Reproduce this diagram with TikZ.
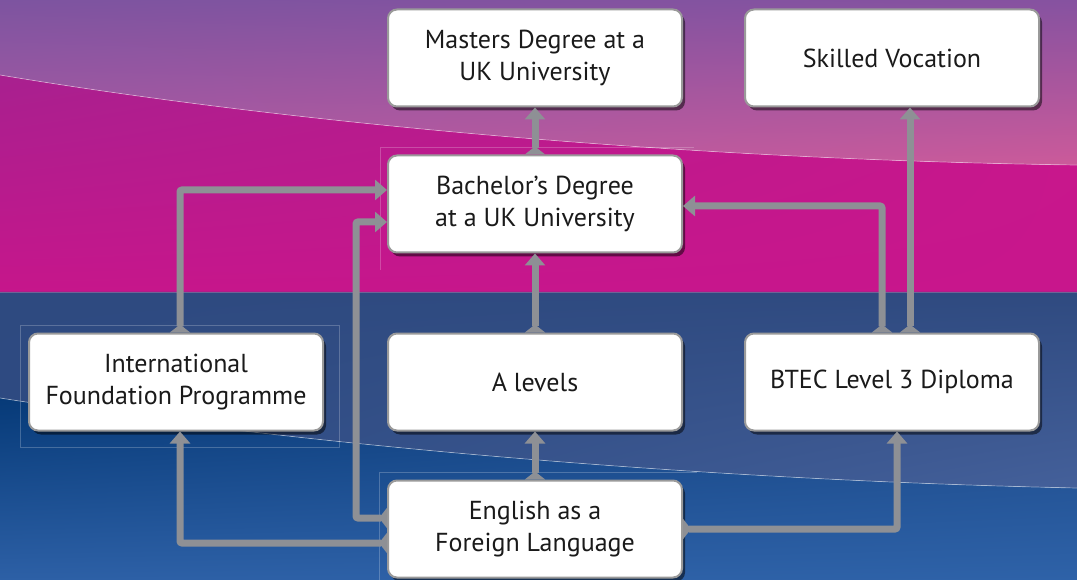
\documentclass[tikz,border=0pt]{standalone}
\usepackage{fontspec}
\setmainfont{PT Sans}
\usetikzlibrary{arrows.meta,shadows,shadings,positioning}
\definecolor{arrowgray}{HTML}{8E9095}
\definecolor{boxline}{HTML}{9A9A9A}
\definecolor{txt}{HTML}{1A1A1A}
\definecolor{aUL}{RGB}{125,84,160}
\definecolor{aUR}{RGB}{134,82,160}
\definecolor{aLL}{RGB}{176,90,163}
\definecolor{aLR}{RGB}{204,90,154}
\definecolor{bUL}{RGB}{168,32,143}
\definecolor{bUR}{RGB}{200,23,140}
\definecolor{bLL}{RGB}{198,22,139}
\definecolor{bLR}{RGB}{200,22,140}
\definecolor{cUL}{RGB}{46,74,128}
\definecolor{cUR}{RGB}{47,74,128}
\definecolor{cLL}{RGB}{45,74,130}
\definecolor{cLR}{RGB}{68,96,154}
\definecolor{dUL}{RGB}{6,58,120}
\definecolor{dUR}{RGB}{29,74,138}
\definecolor{dLL}{RGB}{45,96,166}
\definecolor{dLR}{RGB}{46,98,168}
\definecolor{sepline}{RGB}{110,100,150}
\tikzset{
  stagebox/.style={draw=boxline, line width=2pt, fill=white, rounded corners=9pt,
    minimum width=294pt, minimum height=97pt, align=center, text=txt,
    font=\fontsize{26}{32}\selectfont,
    drop shadow={shadow xshift=3pt,shadow yshift=-4pt,opacity=0.5,fill=black}},
  conn/.style={draw=arrowgray, line width=7pt, rounded corners=2pt,
    {Triangle[reversed,width=20pt,length=8pt]}-{Triangle[width=20pt,length=12pt]}},
  ghost/.style={draw=white, draw opacity=0.22, line width=0.8pt},
  edge hl/.style={draw=white, draw opacity=0.45, line width=0.7pt}
}
\begin{document}
\begin{tikzpicture}[x=1pt,y=-1pt]
\useasboundingbox (0,0) rectangle (1077,580);
% background bands
\begin{scope}
  \clip (0,0) -- (1077,0) -- (1077,165) .. controls (700,160) and (300,125) .. (0,75) -- cycle;
  \shade[upper left=aUL, upper right=aUR, lower left=aLL, lower right=aLR] (0,0) rectangle (1077,166);
\end{scope}
\begin{scope}
  \clip (0,75) .. controls (300,125) and (700,160) .. (1077,165) -- (1077,292) -- (0,292) -- cycle;
  \shade[upper left=bUL, upper right=bUR, lower left=bLL, lower right=bLR] (0,75) rectangle (1077,292);
\end{scope}
\begin{scope}
  \clip (0,292) -- (1077,292) -- (1077,488) .. controls (700,480) and (300,445) .. (0,398) -- cycle;
  \shade[upper left=cUL, upper right=cUR, lower left=cLL, lower right=cLR] (0,292) rectangle (1077,488);
\end{scope}
\begin{scope}
  \clip (0,398) .. controls (300,445) and (700,480) .. (1077,488) -- (1077,580) -- (0,580) -- cycle;
  \shade[upper left=dUL, upper right=dUR, lower left=dLL, lower right=dLR] (0,398) rectangle (1077,580);
\end{scope}
\draw[edge hl] (0,75) .. controls (300,125) and (700,160) .. (1077,165);
\draw[edge hl] (0,398) .. controls (300,445) and (700,480) .. (1077,488);
\draw[draw=sepline, line width=0.8pt] (0,292) -- (1077,292);
% faint outlines
\draw[ghost] (380,270) -- (380,147) -- (694,147);
\draw[ghost] (20,325) rectangle (339,447);
\draw[ghost] (379,580) -- (379,472) -- (697,472);
% nodes
\node[stagebox] (mast)  at (535,58)  {Masters Degree at a\\UK University};
\node[stagebox] (skill) at (892,58)  {Skilled Vocation};
\node[stagebox] (bach)  at (535,204) {Bachelor’s Degree\\at a UK University};
\node[stagebox] (ifp)   at (176,382) {International\\Foundation Programme};
\node[stagebox] (alev)  at (535,382) {A levels};
\node[stagebox] (btec)  at (892,382) {BTEC Level 3 Diploma};
\node[stagebox] (efl)   at (535,529) {English as a\\Foreign Language};
% connectors
\draw[conn] (bach.north) -- (mast.south);
\draw[conn] (alev.north) -- (bach.south);
\draw[conn] (efl.north) -- (alev.south);
\draw[conn] ([xshift=4pt]ifp.north) |- ([yshift=14pt]bach.west);
\draw[conn] ([yshift=11pt]efl.west) -- ++(-31,0) |- ([yshift=-18pt]bach.west);
\draw[conn] ([yshift=-14pt]efl.west) -| ([xshift=4pt]ifp.south);
\draw[conn] (efl.east) -| ([xshift=5pt]btec.south);
\draw[conn] ([xshift=-10pt]btec.north) |- ([yshift=-2pt]bach.east);
\draw[conn] ([xshift=18pt]btec.north) -- ([xshift=18pt]skill.south);
\end{tikzpicture}
\end{document}
